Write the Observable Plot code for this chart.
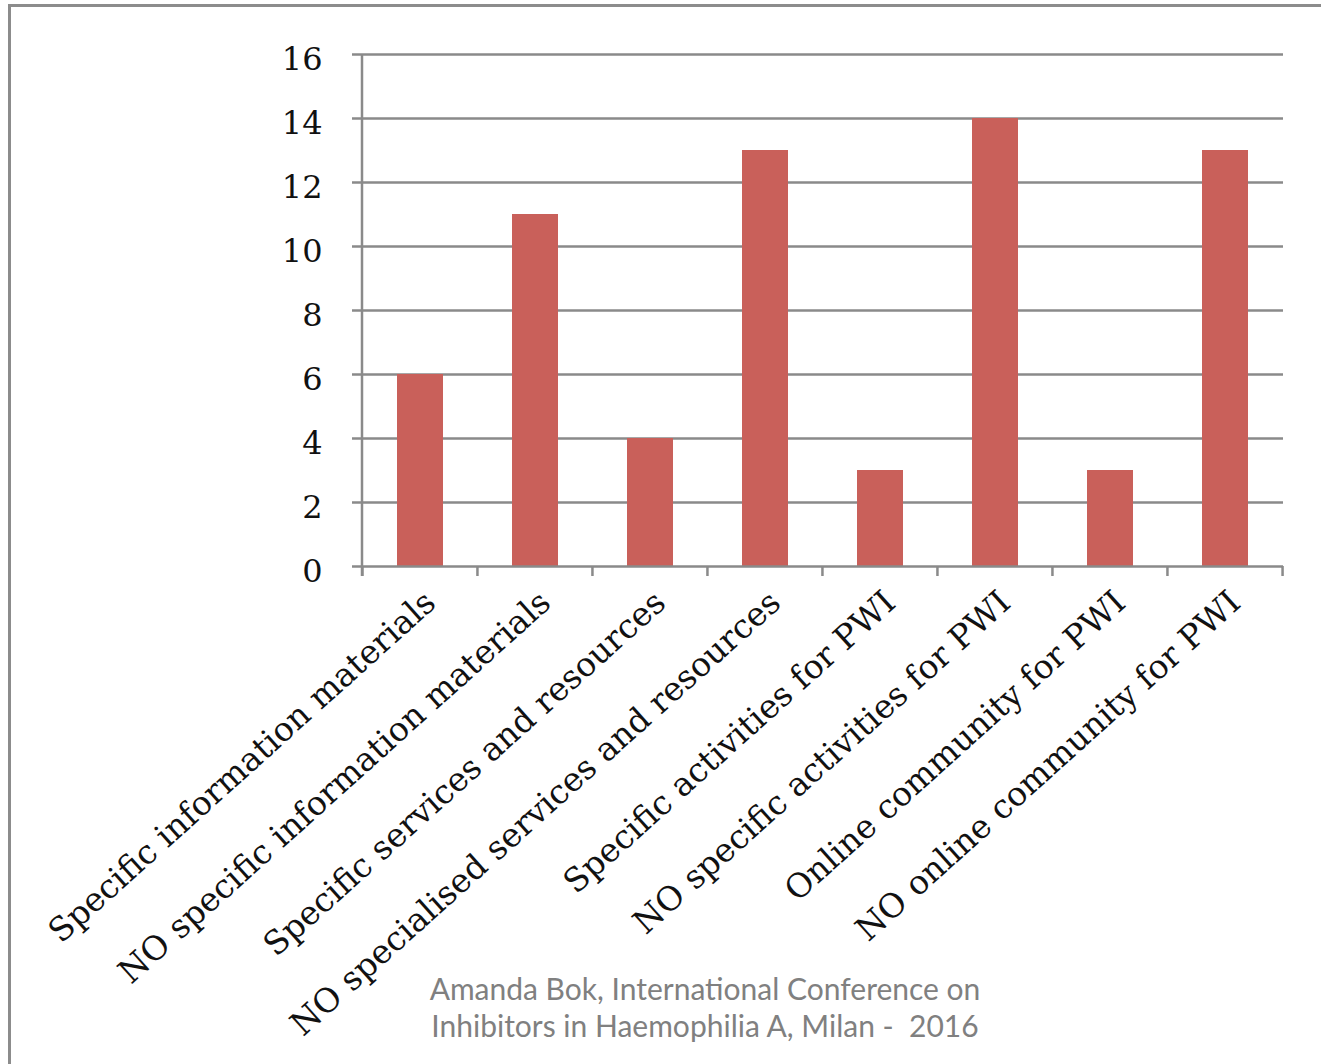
<!DOCTYPE html>
<html>
<head>
<meta charset="utf-8">
<script src="https://cdn.jsdelivr.net/npm/d3@7"></script>
<script src="https://cdn.jsdelivr.net/npm/@observablehq/plot@0.6"></script>
<style>
  html, body { margin: 0; padding: 0; background: #fff; }
  #wrap { position: relative; width: 1321px; height: 1064px; overflow: hidden; }
  #frame { position: absolute; left: 8px; top: 4px; right: -10px; bottom: -10px;
           border-left: 3px solid #8c8c8c; border-top: 3px solid #8c8c8c; }
  #chart { position: absolute; left: 0; top: 0; }
  #chart svg { overflow: visible; }
  #caption { position: absolute; left: 0; top: 970px; width: 1410px; text-align: center;
             font-family: Lato, "Open Sans", sans-serif; font-size: 30px; line-height: 37px; color: #808080; }
</style>
</head>
<body>
<div id="wrap">
  <div id="frame"></div>
  <div id="chart"></div>
  <div id="caption">Amanda Bok, International Conference on<br>Inhibitors in Haemophilia A, Milan -&nbsp; 2016</div>
</div>
<script>
const categories = [
  "Specific information materials",
  "NO specific information materials",
  "Specific services and resources",
  "NO specialised services and resources",
  "Specific activities for PWI",
  "NO specific activities for PWI",
  "Online community for PWI",
  "NO online community for PWI"
];
const values = [6, 11, 4, 13, 3, 14, 3, 13];
const yTicks = [0, 2, 4, 6, 8, 10, 12, 14, 16];

const data = categories.map((c, i) => ({category: c, value: values[i]}));

const W = 1321, H = 960;
const mL = 362, mR = 38, mT = 54, mB = H - 566;
const step = (W - mL - mR) / categories.length;
const grid = "#8a8a8a";

const chart = Plot.plot({
  width: W,
  height: H,
  marginLeft: mL,
  marginRight: mR,
  marginTop: mT,
  marginBottom: mB,
  x: {type: "band", domain: categories, paddingInner: 0.6, paddingOuter: 0.3, align: 0.5, axis: null},
  y: {type: "linear", domain: [0, 16], axis: null},
  marks: [
    Plot.ruleY(yTicks.filter(d => d > 0), {y: d => d, stroke: grid, strokeWidth: 2.5}),
    Plot.barY(data, {x: "category", y: "value", fill: "#c9605a"}),
    Plot.ruleY([0], {y: d => d, stroke: grid, strokeWidth: 2.5}),
    Plot.axisY({ticks: yTicks, tickSize: 10, text: null, stroke: grid, strokeWidth: 2.5, label: null}),
    Plot.axisY({ticks: yTicks, tickSize: 0, tickPadding: 40, fontSize: 32,
                fontFamily: "'DejaVu Serif', serif", fill: "#111", tickFormat: d => d,
                label: null, dy: 5}),
    Plot.text(categories, {x: d => d, frameAnchor: "bottom", rotate: -42, textAnchor: "end",
                           lineAnchor: "middle", dx: 10, dy: 31, fontSize: 33,
                           fontFamily: "'DejaVu Serif', serif", fill: "#111"})
  ]
});
document.getElementById("chart").appendChild(chart);

// y-axis spine and x boundary ticks, positioned through the chart's scales
const x = chart.scale("x"), y = chart.scale("y");
const svg = d3.select(chart);
const g = svg.append("g").attr("stroke", grid).attr("stroke-width", 2.5);
const y0 = y.apply(0);
g.append("line").attr("x1", mL).attr("x2", mL).attr("y1", y.apply(16)).attr("y2", y0 + 10);
const gap = (step - x.bandwidth) / 2;
const bounds = categories.map(c => x.apply(c) - gap);
bounds.push(x.apply(categories[categories.length - 1]) + x.bandwidth + gap);
g.selectAll("line.b").data(bounds).join("line").attr("class", "b")
  .attr("x1", d => d).attr("x2", d => d).attr("y1", y0).attr("y2", y0 + 10);
</script>
</body>
</html>
